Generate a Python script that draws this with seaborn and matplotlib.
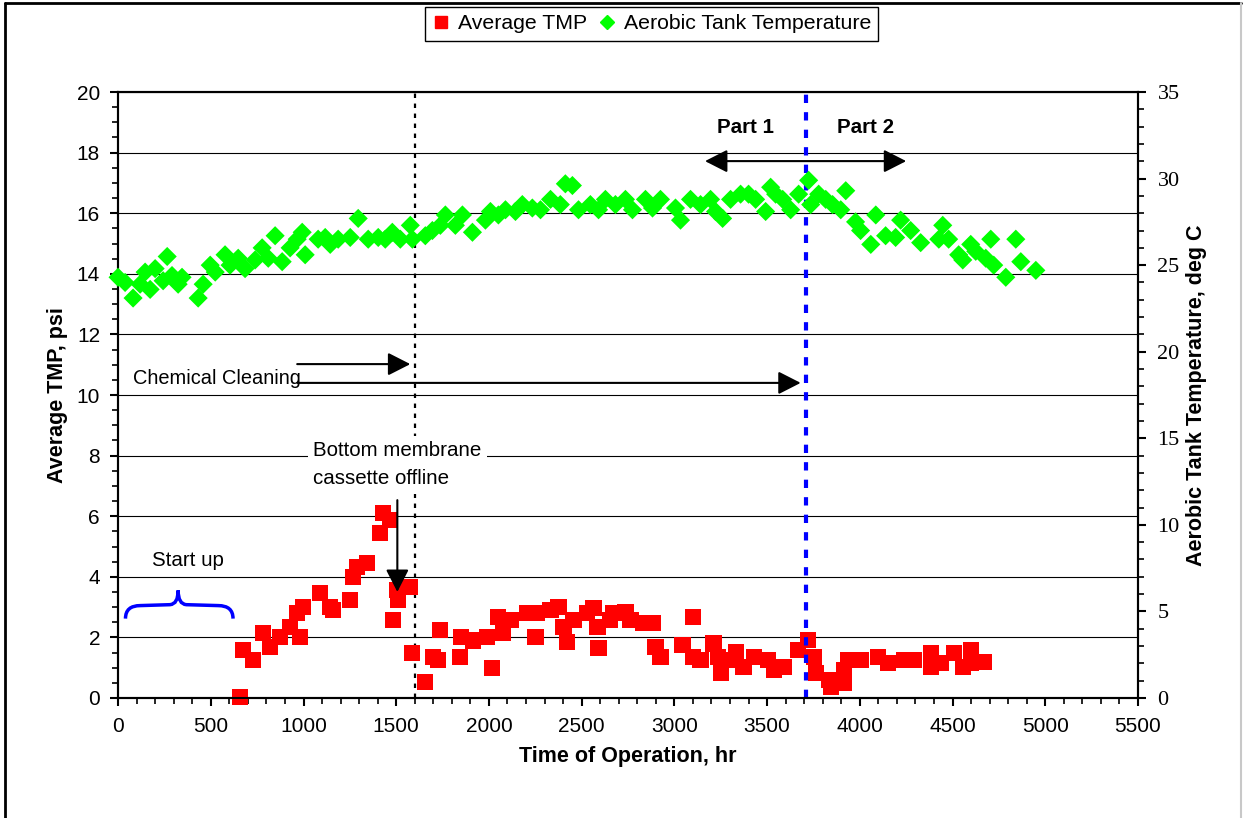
import matplotlib
matplotlib.use("Agg")
import matplotlib.pyplot as plt
from matplotlib.ticker import MultipleLocator
from matplotlib.path import Path
from matplotlib.patches import PathPatch
from matplotlib.lines import Line2D
import pandas as pd
import seaborn as sns

sns.set_style("white")
plt.rcParams["font.family"] = ["Liberation Sans", "DejaVu Sans"]
plt.rcParams.update({"text.color": "black", "axes.labelcolor": "black",
                     "xtick.color": "black", "ytick.color": "black"})

RED = "#FF0000"
GREEN = "#00FF00"
BLUE = "#0000FF"

# Average TMP (psi) vs time of operation (hr)
tmp_hours = [658, 675, 729, 783, 820, 874, 928, 966, 998, 982, 1090, 1144, 1160, 1252, 1268,
             1290, 1344, 1414, 1430, 1468, 1484, 1506, 1511, 1576, 1587, 1657, 1700, 1738, 1727,
             1846, 1850, 1916, 1991, 2018, 2051, 2078, 2116, 2207, 2251, 2261, 2332, 2375, 2402,
             2423, 2456, 2531, 2564, 2585, 2591, 2655, 2672, 2736, 2763, 2833, 2882, 2898, 2925,
             3044, 3098, 3100, 3141, 3211, 3233, 3249, 3287, 3330, 3373, 3427, 3503, 3535, 3589,
             3665, 3719, 3751, 3762, 3832, 3843, 3913, 3915, 3934, 4005, 4096, 4150, 4237, 4291,
             4382, 4385, 4436, 4506, 4555, 4598, 4600, 4668]
tmp_psi = [0.03, 1.58, 1.25, 2.15, 1.68, 2.0, 2.34, 2.8, 3.0, 2.0, 3.47, 3.0, 2.9, 3.23, 4.0,
           4.32, 4.46, 5.45, 6.1, 5.87, 2.57, 3.56, 3.23, 3.66, 1.49, 0.53, 1.35, 2.24, 1.25,
           1.35, 2.0, 1.9, 2.0, 1.0, 2.67, 2.15, 2.57, 2.8, 2.0, 2.8, 2.9, 3.0, 2.34,
           1.85, 2.57, 2.8, 2.97, 2.34, 1.65, 2.57, 2.8, 2.84, 2.57, 2.48, 2.48, 1.68, 1.35,
           1.75, 2.67, 1.35, 1.25, 1.8, 1.35, 0.83, 1.25, 1.52, 1.02, 1.35, 1.25, 0.92, 1.02,
           1.58, 1.91, 1.35, 0.83, 0.6, 0.36, 0.92, 0.5, 1.25, 1.25, 1.35, 1.16, 1.25, 1.25,
           1.49, 1.02, 1.16, 1.49, 1.02, 1.58, 1.16, 1.19]

# Aerobic tank temperature (deg C) vs time of operation (hr)
temp_hours = [0, 38, 81, 119, 146, 173, 200, 243, 265, 291, 324, 345, 432, 459, 497, 524, 577,
              604, 648, 685, 739, 777, 810, 847, 885, 928, 966, 993, 1009, 1079, 1117, 1144,
              1187, 1252, 1295, 1349, 1403, 1441, 1479, 1522, 1576, 1587, 1657, 1695, 1738,
              1765, 1819, 1857, 1911, 1981, 2008, 2051, 2089, 2143, 2180, 2234, 2278, 2332,
              2385, 2412, 2450, 2483, 2547, 2591, 2628, 2682, 2736, 2774, 2844, 2882, 2925,
              3006, 3033, 3087, 3141, 3195, 3222, 3260, 3303, 3357, 3400, 3438, 3492, 3519,
              3546, 3584, 3627, 3670, 3724, 3735, 3778, 3816, 3853, 3897, 3924, 3977, 4004,
              4059, 4086, 4139, 4193, 4220, 4274, 4328, 4426, 4447, 4479, 4533, 4555, 4598,
              4625, 4679, 4706, 4722, 4787, 4841, 4868, 4949]
temp_degc = [24.3, 24.0, 23.1, 23.9, 24.6, 23.6, 24.8, 24.1, 25.5, 24.4, 23.9, 24.3, 23.1, 23.9,
             25.0, 24.6, 25.6, 25.0, 25.4, 24.8, 25.3, 26.0, 25.4, 26.7, 25.2, 26.0, 26.5, 26.9,
             25.6, 26.5, 26.6, 26.2, 26.5, 26.6, 27.7, 26.5, 26.6, 26.5, 26.9, 26.5, 27.3, 26.5,
             26.7, 27.0, 27.3, 27.9, 27.3, 27.9, 26.9, 27.6, 28.1, 27.9, 28.2, 28.1, 28.5, 28.3,
             28.2, 28.8, 28.5, 29.7, 29.6, 28.2, 28.5, 28.2, 28.8, 28.5, 28.8, 28.2, 28.8, 28.3,
             28.8, 28.3, 27.6, 28.8, 28.5, 28.8, 28.1, 27.7, 28.8, 29.1, 29.1, 28.8, 28.1, 29.5,
             29.1, 28.8, 28.2, 29.1, 29.9, 28.5, 29.1, 28.8, 28.5, 28.2, 29.3, 27.5, 27.0, 26.2,
             27.9, 26.7, 26.6, 27.6, 27.0, 26.3, 26.5, 27.3, 26.5, 25.6, 25.3, 26.2, 25.8, 25.4,
             26.5, 25.0, 24.3, 26.5, 25.2, 24.7]

tmp_df = pd.DataFrame({"hours": tmp_hours, "tmp": tmp_psi})
temp_df = pd.DataFrame({"hours": temp_hours, "temp": temp_degc})

FS = 14.8
TICK_FS = 15
LABEL_FS = 15.5

fig = plt.figure(figsize=(12.44, 8.18), dpi=100)
ax = fig.add_axes([0.0949, 0.1467, 0.8199, 0.7408])
ax2 = ax.twinx()

ax.set_xlim(0, 5500)
ax.set_ylim(0, 20)
ax2.set_ylim(0, 35)

ax.set_axisbelow(True)
ax.grid(axis="y", color="black", linewidth=0.8)
ax.grid(axis="x", visible=False)

sns.scatterplot(data=tmp_df, x="hours", y="tmp", ax=ax, marker="s", s=135, color=RED,
                edgecolor="none", linewidth=0, legend=False, zorder=3, clip_on=False)
sns.scatterplot(data=temp_df, x="hours", y="temp", ax=ax2, marker="D", s=95, color=GREEN,
                edgecolor="none", linewidth=0, legend=False, zorder=3, clip_on=False)

# axis styling
for sp in list(ax.spines.values()) + list(ax2.spines.values()):
    sp.set_color("black")
    sp.set_linewidth(1.5)

ax.xaxis.set_major_locator(MultipleLocator(500))
ax.xaxis.set_minor_locator(MultipleLocator(100))
ax.yaxis.set_major_locator(MultipleLocator(2))
ax.yaxis.set_minor_locator(MultipleLocator(0.5))
ax2.yaxis.set_major_locator(MultipleLocator(5))
ax2.yaxis.set_minor_locator(MultipleLocator(1))

ax.tick_params(axis="both", which="major", direction="out", length=6, width=1.5,
               labelsize=TICK_FS, bottom=True, left=True, colors="black")
ax.tick_params(axis="both", which="minor", direction="out", length=4, width=1.2,
               bottom=True, left=True, colors="black")
ax.tick_params(axis="x", which="major", pad=8)
ax.tick_params(axis="y", which="major", pad=7)
ax2.tick_params(axis="y", which="major", direction="out", length=6, width=1.5,
                labelsize=TICK_FS + 1, right=True, pad=8, colors="black",
                labelfontfamily="Liberation Serif")
ax2.tick_params(axis="y", which="minor", direction="out", length=4, width=1.2, right=True)
ax.set_xlabel("")
ax.set_ylabel("")
ax2.set_ylabel("")

fig.text(0.0466, 0.517, "Average TMP, psi", rotation=90, ha="center", va="center",
         fontsize=LABEL_FS, fontweight="bold")
fig.text(0.9622, 0.517, "Aerobic Tank Temperature, deg C", rotation=90, ha="center",
         va="center", fontsize=LABEL_FS, fontweight="bold")
fig.text(0.5048, 0.0746, "Time of Operation, hr", ha="center", va="center",
         fontsize=LABEL_FS, fontweight="bold")

# reference lines
ax.axvline(1600, color="black", linestyle=(0, (2, 2.5)), linewidth=1.6, zorder=2)
ax.axvline(3710, color=BLUE, linestyle=(0, (2, 2.2)), linewidth=3, zorder=4)

arrow_style = "-|>,head_length=0.55,head_width=0.28"
ax.annotate("", xy=(4250, 17.72), xytext=(3165, 17.72),
            arrowprops=dict(arrowstyle="<|-|>,head_length=0.55,head_width=0.28",
                            color="black", lw=1.5, mutation_scale=25, shrinkA=0, shrinkB=0))
ax.text(3384, 18.84, "Part 1", ha="center", va="center", fontsize=FS, fontweight="bold")
ax.text(4032, 18.84, "Part 2", ha="center", va="center", fontsize=FS, fontweight="bold")

ax.annotate("", xy=(1576, 11.02), xytext=(966, 11.02),
            arrowprops=dict(arrowstyle=arrow_style, color="black", lw=1.5,
                            mutation_scale=25, shrinkA=0, shrinkB=0))
ax.annotate("", xy=(3681, 10.4), xytext=(966, 10.4),
            arrowprops=dict(arrowstyle=arrow_style, color="black", lw=1.5,
                            mutation_scale=25, shrinkA=0, shrinkB=0))
ax.text(81, 10.56, "Chemical Cleaning", ha="left", va="center", fontsize=FS - 0.4)

ax.text(1052, 7.7, "Bottom membrane\ncassette offline", ha="left", va="center",
        fontsize=FS, linespacing=1.6, zorder=5,
        bbox=dict(facecolor="white", edgecolor="none", pad=4))
ax.annotate("", xy=(1506, 3.5), xytext=(1506, 6.53),
            arrowprops=dict(arrowstyle=arrow_style, color="black", lw=1.5,
                            mutation_scale=25, shrinkA=0, shrinkB=0), zorder=6)

ax.text(378, 4.55, "Start up", ha="center", va="center", fontsize=FS)
brace = Path([(40, 2.62), (40, 3.05), (120, 3.05), (280, 3.08), (324, 3.1), (324, 3.55),
              (324, 3.1), (368, 3.08), (540, 3.05), (620, 3.05), (620, 2.62)],
             [Path.MOVETO, Path.CURVE3, Path.CURVE3, Path.LINETO, Path.CURVE3, Path.CURVE3,
              Path.CURVE3, Path.CURVE3, Path.LINETO, Path.CURVE3, Path.CURVE3])
ax.add_patch(PathPatch(brace, facecolor="none", edgecolor=BLUE, linewidth=2.5))

# legend
handles = [Line2D([], [], marker="s", color=RED, linestyle="none", markersize=8),
           Line2D([], [], marker="D", color=GREEN, linestyle="none", markersize=7)]
leg = fig.legend(handles, ["Average TMP", "Aerobic Tank Temperature"], loc="center",
                 bbox_to_anchor=(0.524, 0.9707), ncol=2, frameon=True, fancybox=False,
                 edgecolor="black", framealpha=1, fontsize=15.3, handlelength=0.8,
                 handletextpad=0.4, columnspacing=0.5, borderpad=0.35)
leg.get_frame().set_linewidth(1.0)

# outer frame of the chart area
fig.add_artist(Line2D([5 / 1244, 5 / 1244], [0, 1 - 3 / 818], transform=fig.transFigure,
                      color="black", linewidth=2))
fig.add_artist(Line2D([5 / 1244, 1241 / 1244], [1 - 3 / 818, 1 - 3 / 818],
                      transform=fig.transFigure, color="black", linewidth=2))
fig.add_artist(Line2D([1241 / 1244, 1241 / 1244], [0, 1 - 3 / 818], transform=fig.transFigure,
                      color="#C8C8C8", linewidth=1.5))

fig.savefig("out.png", dpi=100)
plt.close(fig)
